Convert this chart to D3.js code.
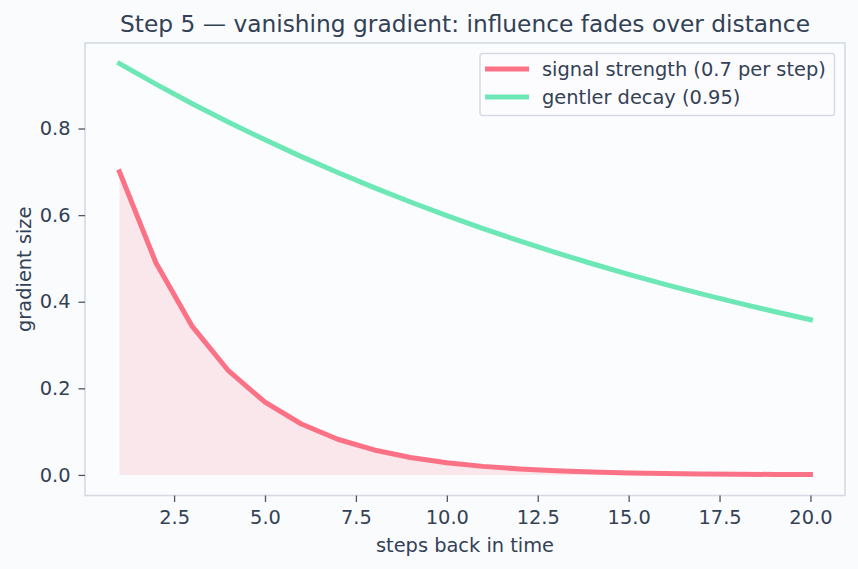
<!DOCTYPE html>
<html>
<head>
<meta charset="utf-8">
<script src="https://cdn.jsdelivr.net/npm/d3@7"></script>
<style>
  html, body { margin: 0; padding: 0; background: #fafbfd; }
  svg { display: block; }
  text { font-family: "DejaVu Sans", sans-serif; fill: #334155; }
</style>
</head>
<body>
<svg id="chart" width="858" height="569"></svg>
<script>
const steps = [1,2,3,4,5,6,7,8,9,10,11,12,13,14,15,16,17,18,19,20];
const signalStrength = [0.7, 0.49, 0.343, 0.2401, 0.16807, 0.117649, 0.0823543, 0.05764801, 0.040353607, 0.0282475249,
  0.0197732674, 0.0138412872, 0.0096889010, 0.0067822307, 0.0047475615, 0.0033232931, 0.0023263051, 0.0016284136, 0.0011398895, 0.0007979227];
const gentlerDecay = [0.95, 0.9025, 0.857375, 0.81450625, 0.7737809375, 0.735091890625, 0.6983372961, 0.6634204313, 0.6302494097, 0.5987369392,
  0.5688000923, 0.5403600877, 0.5133420833, 0.4876749791, 0.4632912302, 0.4401266687, 0.4181203352, 0.3972143185, 0.3773536025, 0.3584859224];
const xTicks = [2.5, 5.0, 7.5, 10.0, 12.5, 15.0, 17.5, 20.0];
const yTicks = [0.0, 0.2, 0.4, 0.6, 0.8];
const seriesNames = ["signal strength (0.7 per step)", "gentler decay (0.95)"];
const titleText = "Step 5 \u2014 vanishing gradient: influence fades over distance";
const xLabel = "steps back in time";
const yLabel = "gradient size";

const colRed = "#fb7185", colGreen = "#6ee7b7";
const plot = {left: 85, right: 845, top: 43, bottom: 495.5};

const svg = d3.select("#chart");
svg.append("rect").attr("width", 858).attr("height", 569).attr("fill", "#fafbfd");

const x = d3.scaleLinear().domain([0.05, 20.95]).range([plot.left, plot.right]);
const y = d3.scaleLinear().domain([-0.0475, 0.9975]).range([plot.bottom, plot.top]);

svg.append("rect").attr("x", plot.left).attr("y", plot.top)
  .attr("width", plot.right - plot.left).attr("height", plot.bottom - plot.top)
  .attr("fill", "#fbfcfe");

// fill under red line
const area = d3.area().x((d, i) => x(steps[i])).y0(y(0)).y1(d => y(d));
svg.append("path").datum(signalStrength).attr("d", area)
  .attr("fill", colRed).attr("fill-opacity", 0.15);

const line = d3.line().x((d, i) => x(steps[i])).y(d => y(d));
svg.append("path").datum(signalStrength).attr("d", line)
  .attr("fill", "none").attr("stroke", colRed).attr("stroke-width", 5)
  .attr("stroke-linejoin", "round").attr("stroke-linecap", "square");
svg.append("path").datum(gentlerDecay).attr("d", line)
  .attr("fill", "none").attr("stroke", colGreen).attr("stroke-width", 5)
  .attr("stroke-linejoin", "round").attr("stroke-linecap", "square");

// frame
svg.append("rect").attr("x", plot.left).attr("y", plot.top)
  .attr("width", plot.right - plot.left).attr("height", plot.bottom - plot.top)
  .attr("fill", "none").attr("stroke", "#d5dae2").attr("stroke-width", 1.6);

// axes
const xAxis = d3.axisBottom(x).tickValues(xTicks).tickFormat(d3.format(".1f")).tickSize(6.5).tickPadding(8);
const gx = svg.append("g").attr("transform", `translate(0,${plot.bottom})`).call(xAxis);
gx.select(".domain").remove();
gx.selectAll(".tick line").attr("stroke", "#4b5563").attr("stroke-width", 1.3);
gx.selectAll(".tick text").attr("font-size", 19.4).attr("font-family", "DejaVu Sans").attr("fill", "#334155");

const yAxis = d3.axisLeft(y).tickValues(yTicks).tickFormat(d3.format(".1f")).tickSize(6.5).tickPadding(8);
const gy = svg.append("g").attr("transform", `translate(${plot.left},0)`).call(yAxis);
gy.select(".domain").remove();
gy.selectAll(".tick line").attr("stroke", "#4b5563").attr("stroke-width", 1.3);
gy.selectAll(".tick text").attr("font-size", 19.4).attr("font-family", "DejaVu Sans").attr("fill", "#334155");

// labels
svg.append("text").attr("x", (plot.left + plot.right) / 2).attr("y", 31.5)
  .attr("text-anchor", "middle").attr("font-size", 23.3).text(titleText);
svg.append("text").attr("x", (plot.left + plot.right) / 2).attr("y", 552)
  .attr("text-anchor", "middle").attr("font-size", 19.4).text(xLabel);
svg.append("text").attr("transform", `translate(31,${(plot.top + plot.bottom) / 2}) rotate(-90)`)
  .attr("text-anchor", "middle").attr("font-size", 19.4).text(yLabel);

// legend
const lg = svg.append("g");
lg.append("rect").attr("x", 480).attr("y", 53.5).attr("width", 354.5).attr("height", 62)
  .attr("rx", 3).attr("fill", "#fbfcfe").attr("fill-opacity", 0.85)
  .attr("stroke", "#d5dae2").attr("stroke-width", 1.4);
[colRed, colGreen].forEach((c, i) => {
  const yy = 69 + i * 28;
  lg.append("line").attr("x1", 485).attr("x2", 529).attr("y1", yy).attr("y2", yy)
    .attr("stroke", c).attr("stroke-width", 5);
  lg.append("text").attr("x", 542).attr("y", yy + 7).attr("font-size", 19.4).text(seriesNames[i]);
});
</script>
</body>
</html>
